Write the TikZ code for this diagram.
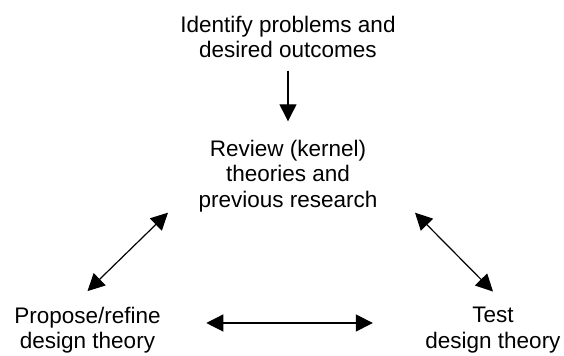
\documentclass[tikz,border=0pt]{standalone}
\usepackage{fontspec}
\setmainfont{Liberation Sans}
\usetikzlibrary{arrows.meta}

\begin{document}
\begin{tikzpicture}[x=0.5pt, y=-0.5pt, line width=0.6pt,
        step box/.style={inner sep=0pt, align=center, font=\fontsize{11.25}{12.8}\selectfont},
        oneway/.style={-{Triangle[length=8.5pt, width=8.5pt]}},
        twoway/.style={{Triangle[length=8.5pt, width=8.5pt]}-{Triangle[length=8.5pt, width=8.5pt]}}]
        \useasboundingbox (0,0) rectangle (564,356);

        \node[step box] (problems) at (288,37) {Identify problems and\\desired outcomes};
        \node[step box] (review) at (288,176) {Review (kernel)\\theories and\\previous research};
        \node[step box] (propose) at (87.5,330) {Propose/refine\\design theory};
        \node[step box] (test) at (493,330) {Test\\design theory};

        \draw[oneway, shorten <=6pt, shorten >=9pt] (problems) -- (review);
        \draw[twoway] ([xshift=-15pt]review.south west) -- ([yshift=7.5pt]propose.north);
        \draw[twoway] ([xshift=18.5pt]review.south east) -- ([yshift=7.5pt]test.north);
        \draw[twoway] ([xshift=22.5pt, yshift=3.5pt]propose.east) -- ([xshift=-26pt, yshift=3.5pt]test.west);
    \end{tikzpicture}
\end{document}
